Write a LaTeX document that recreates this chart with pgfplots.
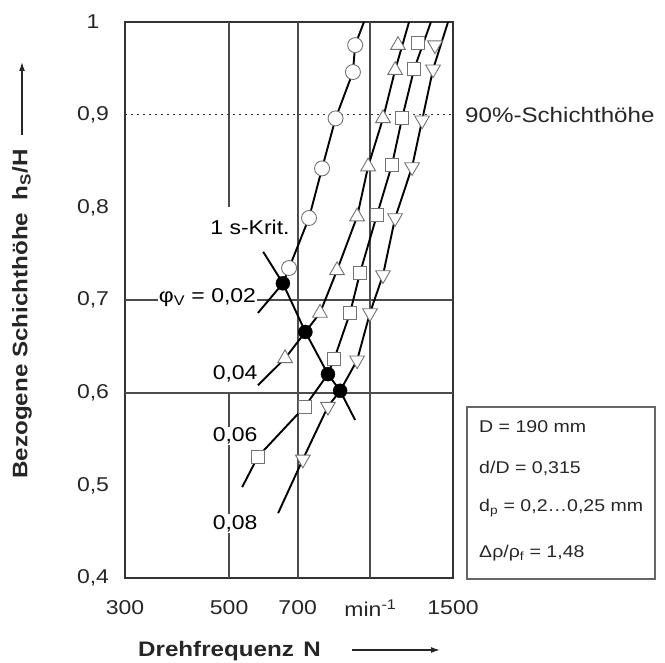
\documentclass[border=0pt]{standalone}
\usepackage{fontspec}
\setmainfont{Liberation Sans}[FakeStretch=1.15]
\usepackage{pgfplots}
\pgfplotsset{compat=1.18}
\usetikzlibrary{arrows.meta}

\tikzset{
  gridl/.style={line width=2pt, black!70},
  dline/.style={line width=1.9pt, black},
  lbl/.style={font=\fontsize{20}{24}\selectfont, inner sep=1pt},
  boxt/.style={font=\fontsize{17}{20}\selectfont, anchor=west, inner sep=0pt, text=black!85},
}
\pgfplotsset{
  hollow/.style={only marks, mark options={fill=white, draw=black!55, line width=0.9pt}},
}

\begin{document}
\begin{tikzpicture}
\path[use as bounding box] (-125pt,-85pt) rectangle (540pt,578pt);
\begin{axis}[
  at={(0pt,0pt)}, anchor=south west,
  width=328pt, height=556pt, scale only axis,
  xmode=log, xmin=300, xmax=1500, ymin=0.4, ymax=1,
  xtick={300,500,700,1000,1500},
  xticklabels={300,500,700,min\textsuperscript{-1},1500},
  ytick={0.4,0.5,0.6,0.7,0.8,0.9,1},
  yticklabels={{0,4},{0,5},{0,6},{0,7},{0,8},{0,9},1},
  minor xtick={}, major tick length=0pt,
  /pgf/number format/assume math mode=true,
  tick label style={font=\fontsize{20}{24}\selectfont, text=black!85},
  xticklabel style={anchor=center, yshift=-30pt},
  yticklabel style={anchor=center, xshift=-32pt},
  axis line style={line width=2.4pt, black!80},
]
% grid lines
\draw[gridl] (axis cs:500,1) -- (axis cs:500,0.8);
\draw[gridl] (axis cs:500,0.6) -- (axis cs:500,0.4);
\draw[gridl] (axis cs:700,0.4) -- (axis cs:700,1);
\draw[gridl] (axis cs:1000,0.4) -- (axis cs:1000,1);
\draw[gridl] (axis cs:300,0.6) -- (axis cs:1500,0.6);
\draw[gridl] (axis cs:300,0.7) -- (axis cs:1500,0.7);
\draw[line width=1.2pt, black!80, dash pattern=on 1.5pt off 4.5pt] (axis cs:300,0.9) -- (axis cs:1500,0.9);

% curve labels
\node[lbl, fill=white] at (axis cs:554,0.778) {1 s-Krit.};
\node[lbl, fill=white, anchor=base east] at (axis cs:574,0.697) {φ\textsubscript{V} = 0,02};
\node[lbl, fill=white] at (axis cs:515,0.620) {0,04};
\node[lbl, fill=white] at (axis cs:515,0.553) {0,06};
\node[lbl, fill=white] at (axis cs:515,0.459) {0,08};

% phi_V = 0.02
\addplot[dline] coordinates {(576,0.686) (651,0.718) (671,0.7345) (740,0.7885) (789,0.842) (843,0.896) (918,0.946) (928,0.975) (969,1.0)};
% phi_V = 0.04
\addplot[dline] coordinates {(576,0.608) (658,0.637) (727,0.6655) (781,0.686) (849,0.732) (937,0.790) (989,0.844) (1064,0.896) (1129,0.948) (1209,1.0)};
% phi_V = 0.06
\addplot[dline] coordinates {(533,0.498) (576,0.531) (725,0.585) (812,0.620) (837,0.636) (905,0.686) (950,0.729) (1033,0.792) (1112,0.846) (1168,0.896) (1239,0.949) (1346,1.0)};
% phi_V = 0.08
\addplot[dline] coordinates {(636,0.470) (718,0.528) (812,0.585) (862,0.602) (937,0.635) (998,0.686) (1064,0.727) (1129,0.7885) (1227,0.8435) (1289,0.894) (1360,0.949) (1464,1.0)};
% 1 s criterion
\addplot[dline] coordinates {(591,0.752) (651,0.718) (727,0.6655) (812,0.620) (862,0.602) (928,0.5705)};

\addplot[hollow, mark=*, mark size=7.5pt] coordinates {(671,0.7345) (740,0.7885) (789,0.842) (843,0.896) (918,0.946) (928,0.975)};
\addplot[hollow, mark=triangle*, mark size=8.5pt] coordinates {(658,0.637) (781,0.686) (849,0.732) (937,0.790) (989,0.844) (1064,0.896) (1129,0.948) (1145,0.975)};
\addplot[hollow, mark=square*, mark size=6.5pt] coordinates {(576,0.531) (725,0.585) (837,0.636) (905,0.686) (950,0.729) (1033,0.792) (1112,0.846) (1168,0.896) (1239,0.949) (1263,0.977)};
\addplot[only marks, mark=triangle*, mark size=8.5pt, mark options={fill=white, draw=black!55, line width=0.9pt, rotate=180}] coordinates {(718,0.528) (812,0.585) (937,0.635) (998,0.686) (1064,0.727) (1129,0.7885) (1227,0.8435) (1289,0.894) (1360,0.949) (1373,0.975)};
\addplot[only marks, mark=*, mark size=7pt, mark options={fill=black, draw=black}] coordinates {(651,0.718) (727,0.6655) (812,0.620) (862,0.602)};
\end{axis}

% axis titles
\node[rotate=90, font=\bfseries\fontsize{21}{25}\selectfont, text=black!85] at (-103pt,264pt) {Bezogene Schichthöhe\hspace{0.6em}h\textsubscript{S}/H};
\draw[-{Latex[length=9pt,width=6pt]}, line width=1.3pt, black!85] (-103pt,443pt) -- (-103pt,516pt);
\node[anchor=base west, inner sep=0pt, font=\bfseries\fontsize{21}{25}\selectfont, text=black!85] at (13pt,-79pt) {Drehfrequenz\hspace{0.45em}N};
\draw[-{Latex[length=9pt,width=6pt]}, line width=1.3pt, black!85] (227pt,-72pt) -- (315pt,-72pt);

\node[anchor=west, inner sep=0pt, font=\fontsize{21}{25}\selectfont, text=black!85] at (340pt,463pt) {90\%-Schichthöhe};

% parameter box
\draw[black!60, line width=1.5pt] (342pt,-1pt) rectangle (530pt,171pt);
\node[boxt] at (354pt,151pt) {D = 190 mm};
\node[boxt] at (354pt,110pt) {d/D = 0,315};
\node[boxt] at (354pt,70pt) {d\textsubscript{p} = 0,2…0,25 mm};
\node[boxt] at (354pt,25pt) {Δρ/ρ\textsubscript{f} = 1,48};
\end{tikzpicture}
\end{document}
